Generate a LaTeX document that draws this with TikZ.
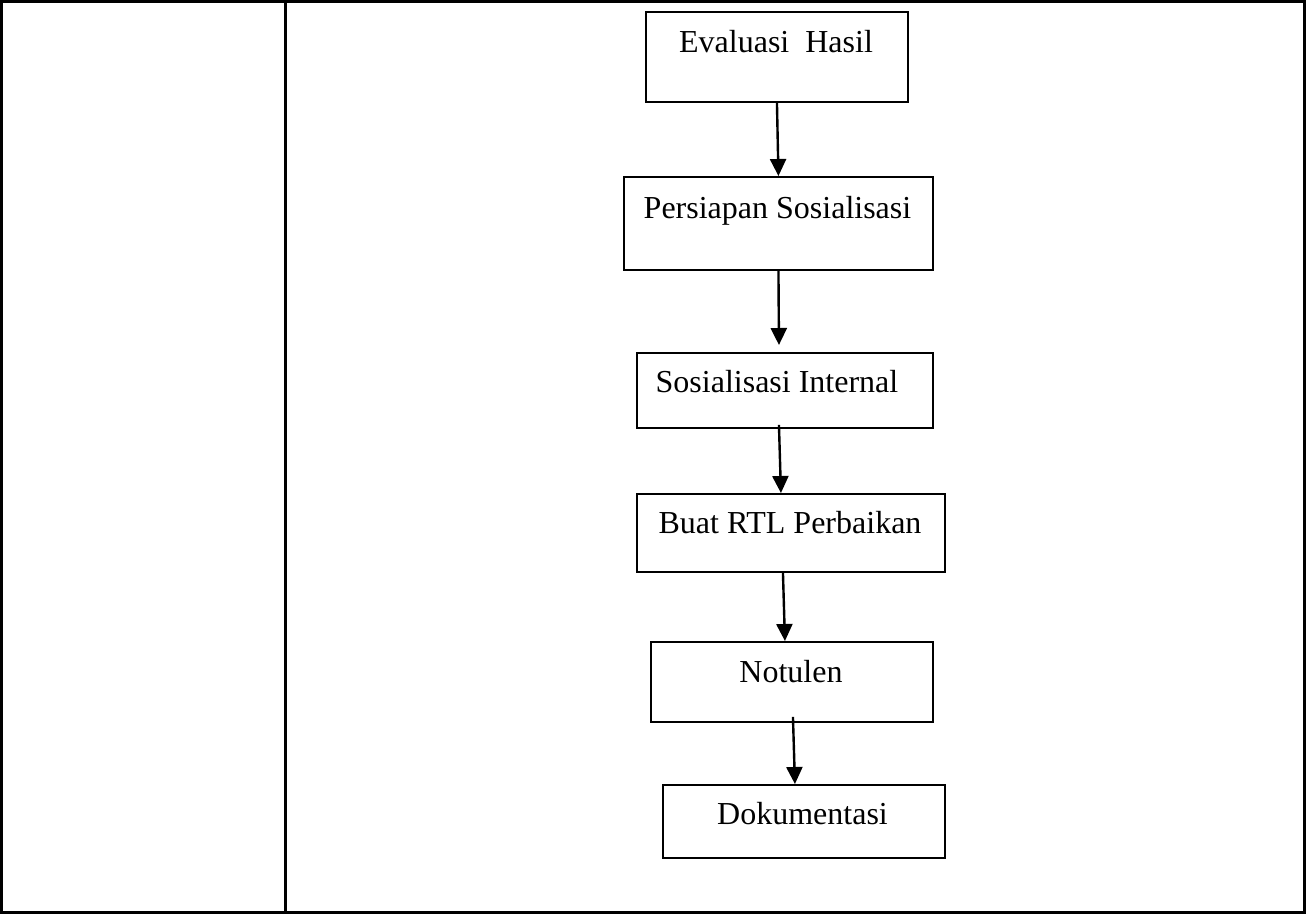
\documentclass[tikz,border=0pt]{standalone}
\usepackage{fontspec}
\setmainfont{Liberation Serif}
\usetikzlibrary{arrows.meta,calc}
\begin{document}
\begin{tikzpicture}[x=1pt,y=-1pt,
  box/.style={draw,line width=1.9pt,rectangle,inner sep=0pt,anchor=north west},
  lbl/.style={anchor=base,inner sep=0pt,font=\fontsize{32}{38}\selectfont},
  flow/.style={line width=2.4pt,-{Triangle[length=17pt,width=16pt]}},
  frame/.style={line width=3pt}]
\useasboundingbox (0,0) rectangle (1306,914);
% table
\draw[frame] (1.5,1.5) rectangle (1304.5,912);
\draw[frame] (285,1.5) -- (285,912);
% boxes
\node[box,minimum width=262pt,minimum height=90pt] (b1) at (645,11) {};
\node[box,minimum width=309pt,minimum height=93pt] (b2) at (623,176) {};
\node[box,minimum width=296pt,minimum height=75pt] (b3) at (636,352) {};
\node[box,minimum width=308pt,minimum height=78pt] (b4) at (636,493) {};
\node[box,minimum width=282pt,minimum height=80pt] (b5) at (650,641) {};
\node[box,minimum width=282pt,minimum height=73pt] (b6) at (662,784) {};
% labels
\node[lbl] (t1) at (776,52) {Evaluasi\ \ Hasil};
\node[lbl] (t2) at (777.5,218) {Persiapan Sosialisasi};
\node[lbl] (t3) at (777,392) {Sosialisasi Internal};
\node[lbl] (t4) at (790,533) {Buat RTL Perbaikan};
\node[lbl] (t5) at (791,682) {Notulen};
\node[lbl] (t6) at (802.5,824) {Dokumentasi};
% arrows
\draw[flow] (b1.south) -- (b2.north);
\draw[flow] (b2.south) -- ($(b3.north)+(-6,-7)$);
\draw[flow] ($(b3.south)+(-6,-4)$) -- ($(b4.north)+(-10,0)$);
\draw[flow] ($(b4.south)+(-8,0)$) -- ($(b5.north)+(-7,0)$);
\draw[flow] ($(b5.south)+(1,-6)$) -- ($(b6.north)+(-9,0)$);
\end{tikzpicture}
\end{document}
